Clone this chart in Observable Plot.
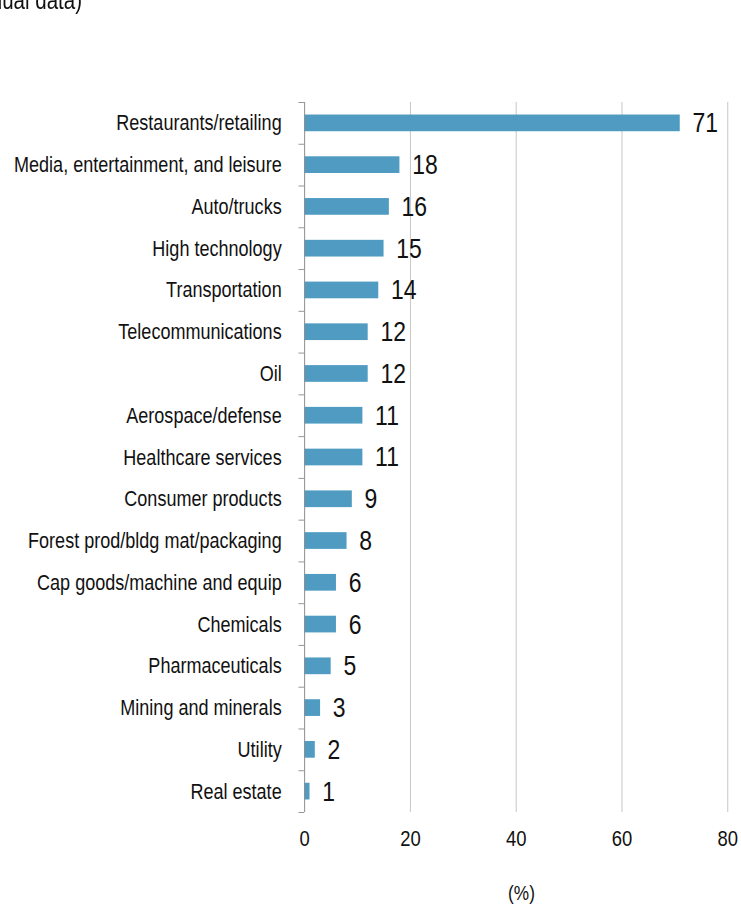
<!DOCTYPE html>
<html>
<head>
<meta charset="utf-8">
<script src="https://cdn.jsdelivr.net/npm/d3@7"></script>
<script src="https://cdn.jsdelivr.net/npm/@observablehq/plot@0.6"></script>
<style>
  html, body { margin: 0; padding: 0; background: #fff; overflow: hidden; }
  #page { position: relative; width: 741px; height: 906px; overflow: hidden; }
  #wrap { position: absolute; left: 0; top: 0; width: 904px; height: 906px;
          transform: scaleX(0.82); transform-origin: 0 0; }
  #head { position: absolute; right: 804px; top: -12px; font: 25px "Liberation Sans", Arial, sans-serif;
          line-height: 25px; white-space: nowrap; color: #111; }
  #chart svg { display: block; }
</style>
</head>
<body>
<div id="page"><div id="wrap">
  <div id="head">(annual data)</div>
  <div id="chart"></div>
</div></div>
<script>
const categories = [
  "Restaurants/retailing",
  "Media, entertainment, and leisure",
  "Auto/trucks",
  "High technology",
  "Transportation",
  "Telecommunications",
  "Oil",
  "Aerospace/defense",
  "Healthcare services",
  "Consumer products",
  "Forest prod/bldg mat/packaging",
  "Cap goods/machine and equip",
  "Chemicals",
  "Pharmaceuticals",
  "Mining and minerals",
  "Utility",
  "Real estate"
];
const values = [71, 18, 16, 15, 14, 12, 12, 11, 11, 9, 8, 6, 6, 5, 3, 2, 1];
const xTicks = [0, 20, 40, 60, 80];
const axisLabel = "(%)";

const data = categories.map((c, i) => ({category: c, value: values[i]}));

const W = 904, H = 906, mT = 102, mB = 94, mL = 371, mR = 17;
const step = (H - mT - mB) / categories.length;

const chart = Plot.plot({
  width: W, height: H,
  marginTop: mT, marginBottom: mB, marginLeft: mL, marginRight: mR,
  style: {fontFamily: '"Liberation Sans", Arial, sans-serif', color: "#111", background: "white"},
  x: {domain: [0, 80]},
  y: {domain: categories, paddingInner: 0.6, paddingOuter: 0.3, align: 0.5, round: false},
  marks: [
    Plot.gridX(xTicks.slice(1), {stroke: "#c6c6c6", strokeOpacity: 1, strokeWidth: 1.2}),
    Plot.barX(data, {x: "value", y: "category", fill: "#4f9bc2"}),
    Plot.ruleX([0], {stroke: "#8c8c8c", strokeWidth: 1.2}),
    Plot.axisY(categories, {tickSize: 7, dy: -step / 2, stroke: "#8c8c8c", tickFormat: () => "", label: null}),
    Plot.axisY([categories[categories.length - 1]], {tickSize: 7, dy: step / 2, stroke: "#8c8c8c", tickFormat: () => "", label: null}),
    Plot.axisY(categories, {tickSize: 0, tickPadding: 28, fontSize: 22, fill: "#111", label: null}),
    Plot.axisX(xTicks, {tickSize: 0, tickPadding: 18, fontSize: 22.5, label: null, fill: "#111"}),
    Plot.text(data, {x: "value", y: "category", text: d => String(d.value),
      textAnchor: "start", dx: 15, fontSize: 28, fill: "#111"}),
    Plot.text([axisLabel], {x: () => 41, frameAnchor: "bottom", text: d => d,
      dy: 81, lineAnchor: "middle", fontSize: 21, fill: "#111"})
  ]
});
document.getElementById("chart").appendChild(chart);
</script>
</body>
</html>
